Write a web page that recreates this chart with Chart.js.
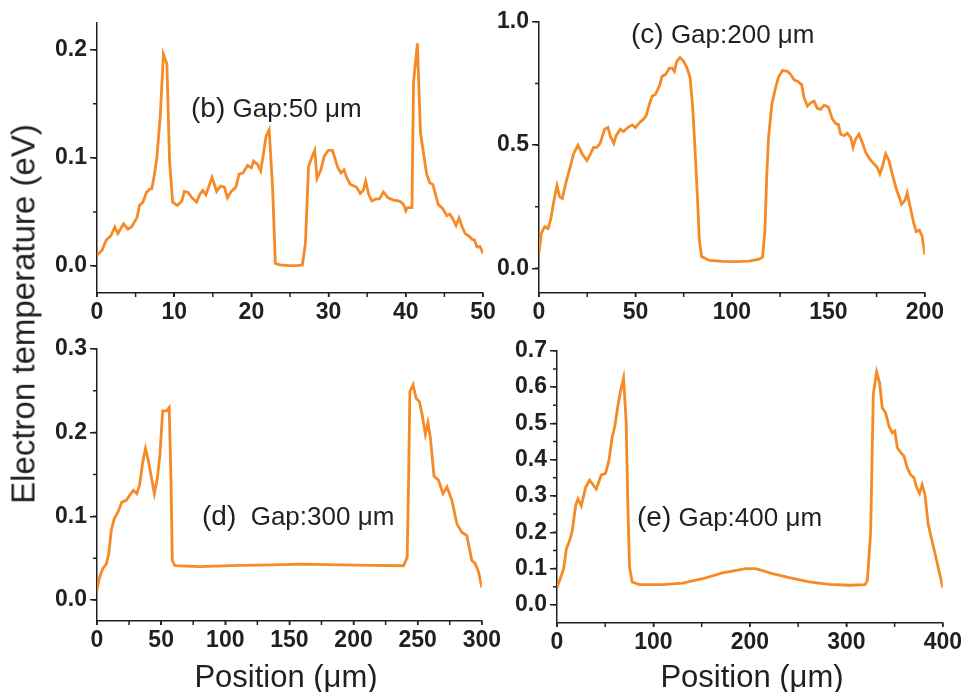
<!DOCTYPE html>
<html>
<head>
<meta charset="utf-8">
<script src="https://cdn.jsdelivr.net/npm/chart.js@4"></script>
<style>
  body { margin: 0; background: #fff; }
  #wrap { position: relative; width: 964px; height: 692px; overflow: hidden; font-family: "Liberation Sans", Arial, sans-serif; color: #231f20; }
  canvas { position: absolute; }
  .note { position: absolute; font-size: 26px; line-height: 1; white-space: pre; }
  .note b { font-weight: normal; font-size: 28px; }
  .title { position: absolute; font-size: 31px; line-height: 1; white-space: nowrap; }
</style>
</head>
<body>
<div id="wrap">
  <canvas id="chartB"></canvas>
  <canvas id="chartC"></canvas>
  <canvas id="chartD"></canvas>
  <canvas id="chartE"></canvas>
  <div class="note" style="left:191px;top:94px"><b>(b)</b> Gap:50 μm</div>
  <div class="note" style="left:631px;top:20px"><b>(c)</b> Gap:200 μm</div>
  <div class="note" style="left:202px;top:502px"><b>(d)</b>  Gap:300 μm</div>
  <div class="note" style="left:637px;top:503px"><b>(e)</b> Gap:400 μm</div>
  <div class="title" style="left:23px;top:314px;font-size:33px;transform:translate(-50%,-50%) rotate(-90deg)">Electron temperature (eV)</div>
  <div class="title" style="left:286px;top:661px;transform:translateX(-50%)">Position (μm)</div>
  <div class="title" style="left:752px;top:661px;transform:translateX(-50%)">Position (μm)</div>
</div>
<script>
// (b) gap 50 um
const posB = [0, 0.65, 1.2, 1.8, 2.3, 2.7, 3.45, 4.0, 4.5, 5.2, 5.5, 5.95, 6.4, 6.8, 7.1, 7.4, 7.75, 8.2, 8.6, 9.05, 9.4, 9.8, 10.4, 11.0, 11.3, 11.8, 12.3, 12.9, 13.3, 13.7, 14.1, 14.9, 15.5, 16.0, 16.5, 16.9, 17.4, 18.0, 18.4, 18.9, 19.5, 20.0, 20.3, 20.8, 21.2, 21.5, 21.9, 22.3, 22.75, 23.1, 23.7, 24.8, 25.9, 26.6, 27.0, 27.4, 27.8, 28.2, 28.5, 29.0, 29.4, 29.95, 30.5, 31.2, 31.6, 32.0, 32.3, 32.8, 33.6, 34.1, 34.5, 34.8, 35.2, 35.6, 36.1, 36.6, 37.1, 37.7, 38.4, 39.2, 39.7, 40.0, 40.2, 40.8, 41.0, 41.5, 41.9, 42.2, 42.7, 43.1, 43.5, 44.2, 44.8, 45.3, 45.7, 46.1, 46.5, 46.9, 47.3, 47.7, 48.3, 48.6, 48.9, 49.2, 49.6, 50];
const tempB = [0.010, 0.0146, 0.024, 0.028, 0.036, 0.030, 0.039, 0.034, 0.0365, 0.045, 0.056, 0.059, 0.068, 0.071, 0.0715, 0.083, 0.100, 0.139, 0.196, 0.187, 0.097, 0.059, 0.056, 0.060, 0.069, 0.068, 0.063, 0.059, 0.066, 0.070, 0.066, 0.082, 0.069, 0.074, 0.073, 0.063, 0.069, 0.073, 0.085, 0.086, 0.093, 0.091, 0.097, 0.094, 0.088, 0.101, 0.120, 0.126, 0.072, 0.0024, 0.001, 0.0003, 0.0003, 0.001, 0.021, 0.092, 0.100, 0.107, 0.081, 0.089, 0.101, 0.107, 0.107, 0.091, 0.086, 0.089, 0.0825, 0.0755, 0.073, 0.067, 0.070, 0.0785, 0.066, 0.060, 0.062, 0.062, 0.0685, 0.063, 0.061, 0.060, 0.057, 0.051, 0.054, 0.054, 0.170, 0.206, 0.123, 0.109, 0.085, 0.077, 0.0755, 0.057, 0.053, 0.0466, 0.048, 0.0435, 0.0375, 0.0444, 0.036, 0.030, 0.027, 0.0245, 0.024, 0.0177, 0.018, 0.0115];

// (c) gap 200 um
const posC = [0, 1.2, 2.9, 4.7, 6.0, 7.6, 9.3, 10.7, 12.1, 13.8, 15.9, 17.9, 20.2, 22.4, 24.8, 26.7, 28.3, 30.0, 31.7, 34.0, 35.7, 37.1, 38.8, 40.0, 42.1, 43.8, 46.0, 48.3, 50.0, 52.1, 54.1, 55.5, 57.2, 58.6, 60.3, 62.4, 63.8, 65.5, 67.6, 69.0, 70.2, 71.4, 73.1, 74.8, 76.6, 78.3, 79.7, 81.0, 82.2, 83.1, 84.3, 88.3, 95.2, 102.1, 109.0, 114.1, 115.9, 117.1, 118.1, 119.0, 120.7, 122.4, 124.1, 126.2, 128.8, 130.5, 132.2, 134.5, 136.2, 137.4, 139.1, 140.9, 142.6, 144.3, 146.0, 147.8, 150.0, 152.1, 153.8, 155.2, 156.4, 158.1, 159.8, 161.6, 162.8, 164.1, 165.9, 167.6, 169.3, 171.4, 173.6, 175.3, 176.7, 177.9, 179.7, 181.4, 183.1, 185.2, 188.0, 189.7, 190.9, 192.6, 194.3, 195.5, 197.2, 198.6, 200];
const tempC = [0.062, 0.142, 0.169, 0.162, 0.196, 0.269, 0.336, 0.290, 0.283, 0.343, 0.403, 0.464, 0.500, 0.464, 0.437, 0.464, 0.491, 0.491, 0.507, 0.564, 0.571, 0.534, 0.507, 0.538, 0.564, 0.555, 0.571, 0.582, 0.571, 0.591, 0.605, 0.618, 0.665, 0.698, 0.705, 0.739, 0.779, 0.786, 0.812, 0.812, 0.799, 0.839, 0.855, 0.842, 0.815, 0.775, 0.651, 0.464, 0.276, 0.115, 0.048, 0.032, 0.028, 0.027, 0.029, 0.0375, 0.0456, 0.155, 0.383, 0.531, 0.665, 0.725, 0.775, 0.802, 0.799, 0.786, 0.765, 0.756, 0.745, 0.692, 0.658, 0.672, 0.678, 0.649, 0.645, 0.662, 0.654, 0.605, 0.587, 0.584, 0.544, 0.538, 0.548, 0.531, 0.491, 0.524, 0.544, 0.511, 0.471, 0.444, 0.424, 0.410, 0.383, 0.410, 0.464, 0.437, 0.383, 0.323, 0.260, 0.276, 0.306, 0.243, 0.182, 0.149, 0.155, 0.131, 0.055];

// (d) gap 300 um
const posD = [0, 2.1, 4.7, 7.2, 9.1, 11.1, 13.4, 16.0, 19.4, 22.8, 25.9, 28.4, 31.0, 33.1, 35.7, 37.8, 40.1, 42.7, 44.7, 47.1, 49.1, 51.2, 54.3, 56.3, 57.7, 58.7, 60.8, 80, 111, 137, 160, 189, 215, 239, 241.8, 243, 243.9, 246.4, 248.8, 251.3, 253.4, 256, 258, 259.9, 262.7, 266.3, 269.7, 272.8, 276.7, 280.6, 284.4, 288.3, 292.2, 294.8, 297.4, 300];
const tempD = [0.012, 0.028, 0.038, 0.043, 0.055, 0.083, 0.097, 0.104, 0.117, 0.119, 0.126, 0.131, 0.127, 0.137, 0.165, 0.181, 0.166, 0.144, 0.127, 0.146, 0.174, 0.226, 0.226, 0.230, 0.142, 0.047, 0.041, 0.040, 0.0415, 0.042, 0.043, 0.042, 0.0415, 0.041, 0.051, 0.150, 0.249, 0.257, 0.241, 0.237, 0.222, 0.198, 0.212, 0.194, 0.148, 0.143, 0.127, 0.135, 0.119, 0.091, 0.081, 0.077, 0.0475, 0.0435, 0.034, 0.015];

// (e) gap 400 um
const posE = [0, 3.4, 6.9, 9.7, 13.1, 15.9, 19.3, 21.7, 25.2, 29.7, 33.8, 40.7, 45.9, 50.3, 53.8, 57.2, 60, 63.1, 66.6, 69.0, 71.7, 73.4, 75.2, 77.9, 85.5, 109.7, 130.3, 151, 171.7, 195.9, 206, 223.4, 240.7, 261.4, 282, 302.8, 319.3, 321.7, 325.2, 327.9, 331.4, 334.5, 337.2, 340.7, 344.1, 347.6, 350.3, 352.8, 357.2, 359.7, 363.1, 366.6, 370, 372.8, 375.9, 378.6, 381.4, 384.8, 388.3, 392.4, 395.9, 400];
const tempE = [0.0475, 0.072, 0.0996, 0.154, 0.177, 0.205, 0.273, 0.292, 0.273, 0.324, 0.344, 0.319, 0.358, 0.362, 0.397, 0.461, 0.493, 0.548, 0.598, 0.625, 0.506, 0.278, 0.104, 0.063, 0.0558, 0.0558, 0.060, 0.072, 0.088, 0.0996, 0.0996, 0.086, 0.075, 0.063, 0.0567, 0.054, 0.0558, 0.066, 0.200, 0.580, 0.642, 0.611, 0.543, 0.529, 0.493, 0.474, 0.479, 0.433, 0.417, 0.410, 0.378, 0.358, 0.351, 0.324, 0.307, 0.331, 0.305, 0.223, 0.182, 0.136, 0.095, 0.0475];

const ink = '#231f20';
const orange = '#f68a26';
const PADL = 70, PADR = 20, PADT = 15, PADB = 40;

// short minor ticks between the labelled ones
const minorTicks = {
  id: 'minorTicks',
  afterDraw(chart, args, opts) {
    const ctx = chart.ctx, xs = chart.scales.x, ys = chart.scales.y;
    const area = chart.chartArea;
    ctx.save();
    ctx.strokeStyle = ink;
    ctx.lineWidth = 1.5;
    ctx.beginPath();
    for (let v = 0; v <= ys.max + 1e-9; v += opts.y) {
      const py = ys.getPixelForValue(v);
      ctx.moveTo(area.left - 4, py);
      ctx.lineTo(area.left, py);
    }
    for (let v = 0; v <= xs.max + 1e-9; v += opts.x) {
      const px = xs.getPixelForValue(v);
      ctx.moveTo(px, area.bottom);
      ctx.lineTo(px, area.bottom + 4);
    }
    ctx.stroke();
    ctx.restore();
  }
};

function makePanel(id, box, xs, ys, xMax, xStep, yMin, yMax, yStep) {
  const cv = document.getElementById(id);
  cv.width = box.r - box.l + PADL + PADR;
  cv.height = box.b - box.t + PADT + PADB;
  cv.style.left = (box.l - PADL) + 'px';
  cv.style.top = (box.t - PADT) + 'px';
  const pts = xs.map((x, i) => ({x: x, y: ys[i]}));
  const tickFont = {family: '"Liberation Sans", Arial, sans-serif', size: 23, weight: 'bold'};
  return new Chart(cv, {
    type: 'line',
    data: {
      datasets: [{
        data: pts,
        borderColor: orange,
        borderWidth: 2.8,
        pointRadius: 0,
        tension: 0,
        fill: false
      }]
    },
    options: {
      responsive: false,
      animation: false,
      layout: {autoPadding: false, padding: {left: 0, right: PADR, top: PADT, bottom: 0}},
      plugins: {
        legend: {display: false},
        tooltip: {enabled: false},
        minorTicks: {x: xStep / 2, y: yStep / 2}
      },
      scales: {
        x: {
          type: 'linear',
          min: 0,
          max: xMax,
          afterFit: s => { s.height = PADB; },
          border: {color: ink, width: 1.5},
          grid: {drawOnChartArea: false, tickLength: 4, color: ink, lineWidth: 1.5},
          ticks: {stepSize: xStep, color: ink, font: tickFont, padding: 2, maxRotation: 0, includeBounds: false}
        },
        y: {
          min: yMin,
          max: yMax,
          afterFit: s => { s.width = PADL; },
          border: {color: ink, width: 1.5},
          grid: {drawOnChartArea: false, tickLength: 7, color: ink, lineWidth: 1.5},
          ticks: {stepSize: yStep, color: ink, font: tickFont, padding: 3, includeBounds: false,
                  callback: v => Math.abs(v).toFixed(1)}
        }
      }
    },
    plugins: [minorTicks]
  });
}

makePanel('chartB', {l: 97, r: 483, t: 21, b: 293}, posB, tempB, 50, 10, -0.025, 0.225, 0.1);
makePanel('chartC', {l: 539, r: 926, t: 20, b: 293}, posC, tempC, 200, 50, -0.1, 1.0, 0.5);
makePanel('chartD', {l: 97, r: 483, t: 347, b: 621}, posD, tempD, 300, 50, -0.025, 0.3, 0.1);
makePanel('chartE', {l: 557, r: 944, t: 349, b: 623}, posE, tempE, 400, 100, -0.05, 0.7, 0.1);
</script>
</body>
</html>
